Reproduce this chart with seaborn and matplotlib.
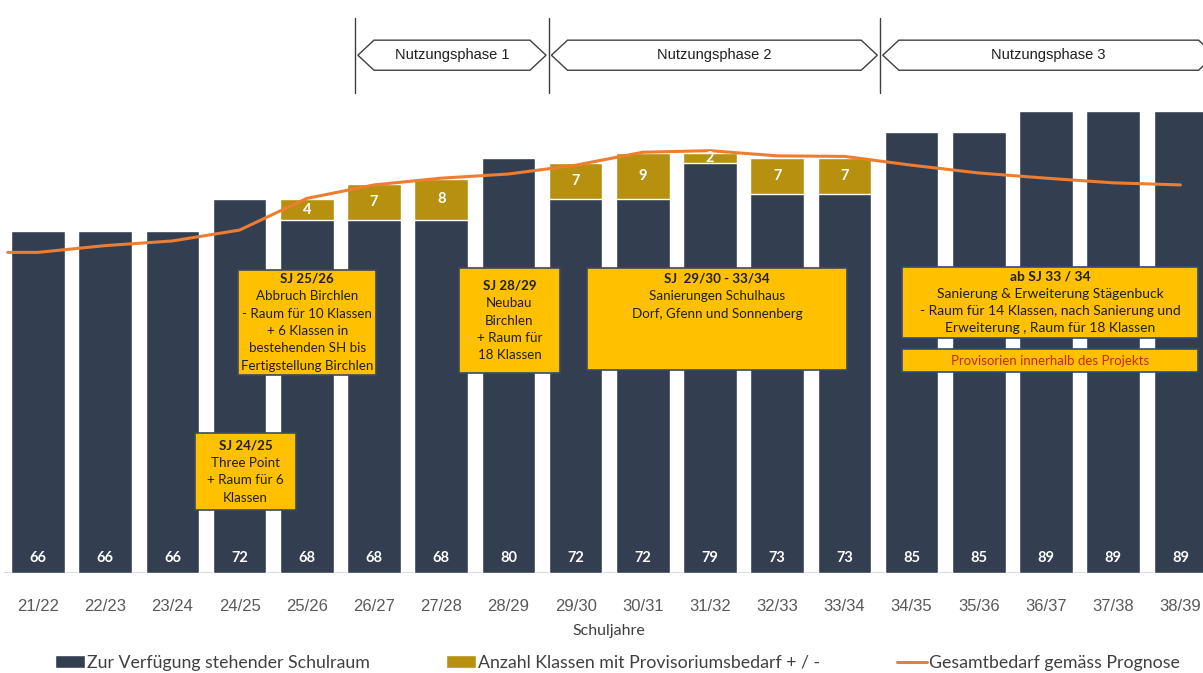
import matplotlib
matplotlib.use("Agg")
import matplotlib.pyplot as plt
from matplotlib.patches import Rectangle, Polygon, Patch
from matplotlib.lines import Line2D
import seaborn as sns
import numpy as np
import pandas as pd

# data
years = ['21/22', '22/23', '23/24', '24/25', '25/26', '26/27', '27/28', '28/29', '29/30',
         '30/31', '31/32', '32/33', '33/34', '34/35', '35/36', '36/37', '37/38', '38/39']
schulraum = [66, 66, 66, 72, 68, 68, 68, 80, 72, 72, 79, 73, 73, 85, 85, 89, 89, 89]
provisorium = [0, 0, 0, 0, 4, 7, 8, 0, 7, 9, 2, 7, 7, 0, 0, 0, 0, 0]
prognose = [61.8, 63.1, 64.0, 66.1, 72.2, 74.8, 76.1, 76.9, 78.6, 81.1, 81.4, 80.4, 80.3,
            78.6, 77.1, 76.1, 75.2, 74.8]

phases = ['Nutzungsphase 1', 'Nutzungsphase 2', 'Nutzungsphase 3']
phase_bounds = [4.72, 7.60, 12.53, 17.55]

DARK = '#333F50'
GOLD = '#B8900F'
ORANGE = '#ED7D31'
YELLOW = '#FFC000'

df = pd.DataFrame({'Schuljahr': years, 'Schulraum': schulraum, 'Provisorium': provisorium,
                   'Prognose': prognose})
df['Total'] = df['Schulraum'] + df['Provisorium']

sns.set_style('white')
plt.rcParams['font.family'] = ['Liberation Sans', 'DejaVu Sans']

fig = plt.figure(figsize=(12.03, 6.73), dpi=100)
ax = fig.add_axes([0.00366, 0.1486, 1.0055, 0.848])

# stacked look: totals in gold, available room in dark on top
sns.barplot(data=df, x='Schuljahr', y='Total', color=GOLD, saturation=1, width=0.8, ax=ax)
sns.barplot(data=df, x='Schuljahr', y='Schulraum', color=DARK, saturation=1, width=0.8, ax=ax)

# forecast line, drawn from the left edge of the plot like in the original
line_x = np.concatenate([[-0.45], np.arange(len(years))])
line_y = np.concatenate([[prognose[0]], prognose])
sns.lineplot(x=line_x, y=line_y, color=ORANGE, lw=2.2, ax=ax, sort=False)

ax.set_xlim(-0.5, len(years) - 0.5)
ax.set_ylim(0, 110)
ax.axhline(0, color='#D9D9D9', lw=1.5, zorder=0)
sns.despine(ax=ax, left=True, bottom=True)
ax.set_yticks([])
ax.set_ylabel('')
ax.tick_params(axis='x', length=0, pad=19, labelsize=12, labelcolor='#595959')
ax.set_xlabel('Schuljahre', fontsize=11.5, color='#404040', family='Lato', labelpad=7)

# value labels
for i, (s, p) in enumerate(zip(schulraum, provisorium)):
    ax.text(i, 2.9, str(s), ha='center', va='center', color='white', fontsize=10.5,
            fontweight='bold', family='Lato')
    if p:
        ax.text(i, s + p / 2, str(p), ha='center', va='center', color='white', fontsize=10.5,
                fontweight='bold', family='Lato')


# annotation boxes
def note(x0, x1, y0, y1, lines, top=False, edge='#3B4A60', color='#1F1F1F', fs=9.6):
    ax.add_patch(Rectangle((x0, y0), x1 - x0, y1 - y0, facecolor=YELLOW, edgecolor=edge,
                           lw=1.2, zorder=5))
    xc = (x0 + x1) / 2
    n = len(lines)
    step = 3.35
    if top:
        ys = [y1 - 2.1 - k * step for k in range(n)]
    else:
        yc = (y0 + y1) / 2
        ys = [yc + (n - 1) / 2 * step - k * step for k in range(n)]
    for k, (txt, y) in enumerate(zip(lines, ys)):
        ax.text(xc, y, txt, ha='center', va='center', fontsize=fs, family='Lato', color=color,
                fontweight='bold' if (k == 0 and color == '#1F1F1F') else 'normal', zorder=6)


note(2.34, 3.84, 12.1, 27.0, ['SJ 24/25', 'Three Point', '+ Raum für 6', 'Klassen'])
note(2.98, 5.03, 38.2, 58.4, ['SJ 25/26', 'Abbruch Birchlen', '- Raum für 10 Klassen',
                              '+ 6 Klassen in', 'bestehenden SH bis', 'Fertigstellung Birchlen'])
note(6.26, 7.77, 38.5, 58.8, ['SJ 28/29', 'Neubau', 'Birchlen', '+ Raum für', '18 Klassen'])
note(8.17, 12.04, 39.1, 58.8, ['SJ  29/30 - 33/34', 'Sanierungen Schulhaus',
                               'Dorf, Gfenn und Sonnenberg'], top=True)
note(12.86, 17.26, 45.3, 59.0, ['ab SJ 33 / 34', 'Sanierung & Erweiterung Stägenbuck',
                                '- Raum für 14 Klassen, nach Sanierung und',
                                'Erweiterung , Raum für 18 Klassen'], edge='#2F4A80', fs=10)
note(12.86, 17.26, 38.7, 43.2, ['Provisorien innerhalb des Projekts'], edge='#2F4A80',
     color='#C8281E', fs=9.5)

# phase arrows on top
tip = 0.24
for k, name in enumerate(phases):
    a, b = phase_bounds[k] + 0.04, phase_bounds[k + 1] - 0.04
    hexagon = [(a, 99.8), (a + tip, 102.7), (b - tip, 102.7), (b, 99.8), (b - tip, 96.9),
               (a + tip, 96.9)]
    ax.add_patch(Polygon(hexagon, closed=True, facecolor='white', edgecolor='#404040', lw=1.0,
                         zorder=5, clip_on=False))
    ax.text((a + b) / 2, 99.8, name, ha='center', va='center', fontsize=10.5, color='#1F1F1F',
            zorder=6)
for xb in phase_bounds[:3]:
    ax.plot([xb, xb], [92.5, 106.9], color='#404040', lw=1.0, zorder=4)

# legend
handles = [Patch(facecolor=DARK, label='Zur Verfügung stehender Schulraum'),
           Patch(facecolor=GOLD, label='Anzahl Klassen mit Provisoriumsbedarf + / -'),
           Line2D([0], [0], color=ORANGE, lw=2.2, label='Gesamtbedarf gemäss Prognose')]
fig.legend(handles=handles, loc='center', bbox_to_anchor=(0.513, 0.015), ncol=3, frameon=False,
           prop={'family': 'Lato', 'size': 12.8}, labelcolor='#404040', handlelength=1.7,
           handleheight=0.7, handletextpad=0.1, columnspacing=4.3)

fig.savefig('out.png', dpi=100)
